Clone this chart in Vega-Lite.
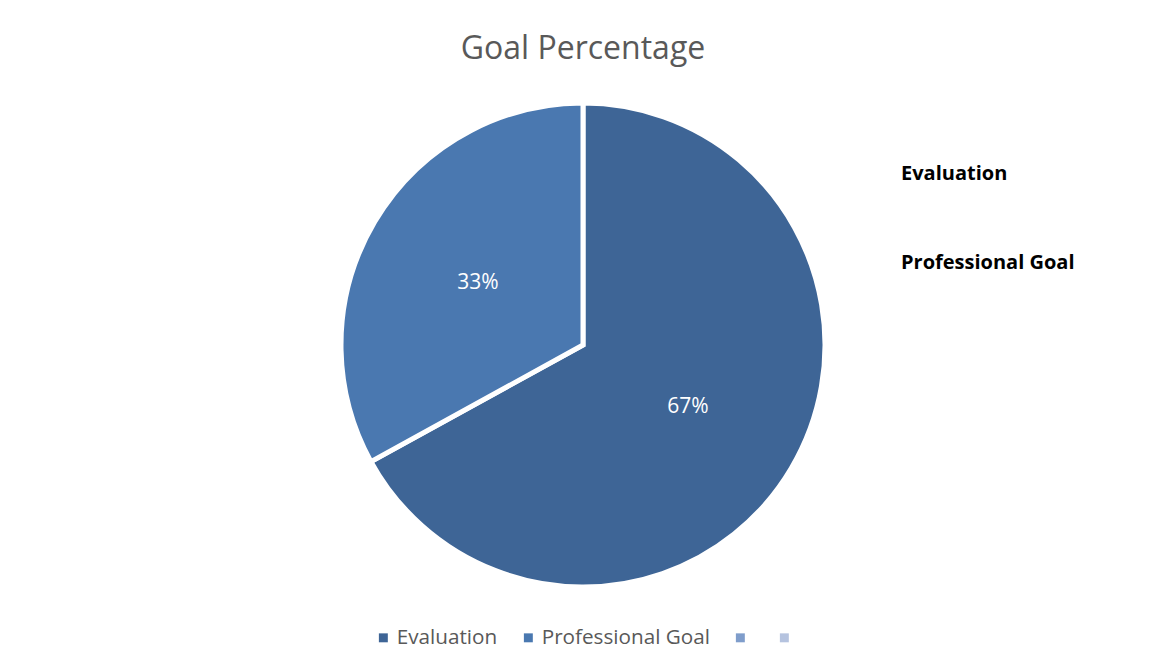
{
  "$schema": "https://vega.github.io/schema/vega-lite/v6.json",
  "width": 1134,
  "height": 530,
  "autosize": {"type": "none"},
  "padding": {"left": 16, "top": 80, "right": 0, "bottom": 61},
  "background": "white",
  "title": {
    "text": "Goal Percentage",
    "font": "Open Sans",
    "fontSize": 32,
    "fontWeight": "normal",
    "color": "#595959",
    "anchor": "middle",
    "offset": 14
  },
  "config": {"view": {"stroke": null}},
  "data": {
    "values": [
      {"category": "Evaluation", "value": 67, "label": "67%", "side": "Evaluation", "order": 1},
      {"category": "Professional Goal", "value": 33, "label": "33%", "side": "Professional Goal", "order": 2}
    ]
  },
  "encoding": {
    "theta": {"field": "value", "type": "quantitative", "stack": true},
    "order": {"field": "order", "type": "quantitative"}
  },
  "layer": [
    {
      "mark": {"type": "arc", "outerRadius": 242, "stroke": "white", "strokeWidth": 5},
      "encoding": {
        "color": {
          "field": "category",
          "type": "nominal",
          "scale": {
            "domain": ["Evaluation", "Professional Goal", "Series 3", "Series 4"],
            "range": ["#3e6596", "#4a78b0", "#7f9dcb", "#b5c3df"]
          },
          "legend": {
            "title": null,
            "orient": "none",
            "direction": "horizontal",
            "legendX": 357,
            "legendY": 547,
            "symbolType": "square",
            "symbolSize": 80,
            "symbolStrokeWidth": 0,
            "labelFont": "Open Sans",
            "labelFontSize": 20.7,
            "labelColor": "#595959",
            "labelOffset": 3,
            "labelLimit": 0,
            "columnPadding": 20,
            "labelExpr": "indexof(['Series 3','Series 4'], datum.label) >= 0 ? '' : datum.label"
          }
        },
        "opacity": {
          "field": "side",
          "type": "ordinal",
          "scale": {"range": [1, 1]},
          "legend": {
            "title": null,
            "orient": "none",
            "direction": "vertical",
            "legendX": 865,
            "legendY": 84,
            "symbolType": "square",
            "symbolSize": 0,
            "symbolOpacity": 0,
            "labelOffset": 0,
            "labelLimit": 0,
            "labelFont": "Open Sans",
            "labelFontSize": 20,
            "labelFontWeight": "bold",
            "labelColor": "#000000",
            "rowPadding": 69
          }
        }
      }
    },
    {
      "mark": {"type": "text", "radius": 122, "fontSize": 21, "font": "Open Sans", "fill": "white"},
      "encoding": {
        "text": {"field": "label", "type": "nominal"}
      }
    }
  ]
}
